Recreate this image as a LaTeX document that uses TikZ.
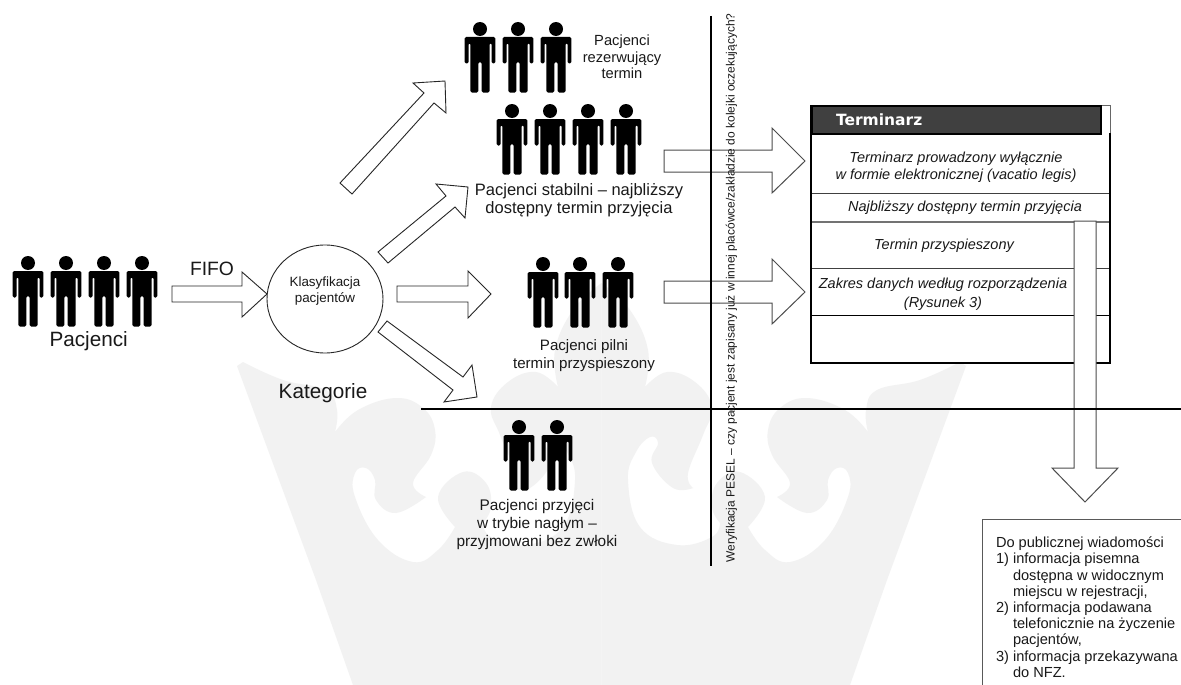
\documentclass[tikz,border=0pt]{standalone}
\usepackage{fontspec}
\usetikzlibrary{shapes.geometric}
\setmainfont{Liberation Sans}
\newfontfamily\headfont{DejaVu Sans}
\newcommand{\fs}[2]{\fontsize{#1pt}{#2pt}\selectfont}
\tikzset{
  txt/.style={inner sep=0pt,outer sep=0pt,align=center,text=black!90},
  wm/.style={fill=black!5},
  blockarrow/.style={draw=black!85,fill=white,line width=0.9pt,line join=miter},
  greyarrow/.style={draw=black!70,fill=white,line width=1pt,line join=miter},
  rowline/.style={line width=1pt},
  thickline/.style={draw=black,line width=2.2pt},
  person/.pic={
    \fill[black] (0,0) circle (7);
    \fill[black,rounded corners=1.5pt] (-15.3,8) -- (15.3,8) -- (15.3,34.5) -- (11.5,34.5) -- (11.5,14) -- (9.7,14) -- (9.7,63.5) -- (1.6,63.5) -- (1.6,33) -- (-1.6,33) -- (-1.6,63.5) -- (-9.7,63.5) -- (-9.7,14) -- (-11.5,14) -- (-11.5,34.5) -- (-15.3,34.5) -- cycle;
  }
}
\newcommand{\crownhalf}{%
  \fill[wm] plot[smooth,tension=.7] coordinates {(601.5,283) (630,310) (648,350) (645,387)}
   -- plot[smooth,tension=.7] coordinates {(645,387) (667,372) (695,382) (712,407) (703,435) (688,473) (693,488)}
   -- plot[smooth,tension=.7] coordinates {(693,488) (673,488) (652,463) (658,443) (650,437) (636,452) (628,480) (640,527) (677,545) (712,537) (720,523)}
   -- plot[smooth,tension=.7] coordinates {(720,523) (712,507) (717,483) (740,472) (765,497) (748,527)}
   -- plot[smooth,tension=.7] coordinates {(748,527) (765,550) (790,562) (825,540) (848,497) (848,473) (837,468) (828,480) (827,500) (807,513) (777,497)}
   -- plot[smooth,tension=.7] coordinates {(777,497) (790,483) (772,455) (768,430) (780,408) (807,398) (845,410) (868,432)}
   -- plot[smooth,tension=.7] coordinates {(868,432) (866,410) (877,390) (920,380) (960,362)}
   -- (966,366) -- (887,580) -- (850,685) -- (601.5,685) -- cycle;%
}
\begin{document}
\begin{tikzpicture}[x=1pt,y=-1pt]
\useasboundingbox (0,0) rectangle (1181,685);
\fill[white] (0,0) rectangle (1181,685);
% watermark
\crownhalf
\begin{scope}[xshift=1203pt,xscale=-1]\crownhalf\end{scope}

% people
\foreach \x in {28,66,104,142} \pic at (\x,263) {person};
\foreach \x in {480,518,556} \pic at (\x,29) {person};
\foreach \x in {512,550,588,626} \pic at (\x,111) {person};
\foreach \x in {543,580,618} \pic at (\x,264) {person};
\foreach \x in {519,557} \pic at (\x,427) {person};

% classification circle
\node[draw=black!85,line width=0.9pt,ellipse,minimum width=116pt,minimum height=108pt,inner sep=0pt] (klas) at (325,299) {};

% block arrows
\draw[blockarrow] (172,286) -- (242,286) -- (242,272) -- (267,294) -- (242,317) -- (242,302) -- (172,302) -- cycle;
\draw[blockarrow] (340,183) -- (424,93) -- (413,83) -- (445,81) -- (446,113) -- (434,103) -- (352,194) -- cycle;
\draw[blockarrow] (378,252) -- (446,196) -- (436,184) -- (468,187) -- (465,218) -- (455,207) -- (388,263) -- cycle;
\draw[blockarrow] (397,286) -- (468,286) -- (468,271) -- (491,294) -- (468,318) -- (468,302) -- (397,302) -- cycle;
\draw[blockarrow] (387,321) -- (463,377) -- (472,365) -- (477,397) -- (444,402) -- (453,390) -- (378,332) -- cycle;
\draw[greyarrow] (664,150) -- (772,150) -- (772,128) -- (805,161) -- (772,193) -- (772,172) -- (664,172) -- cycle;
\draw[greyarrow] (664,281) -- (772,281) -- (772,259) -- (805,292) -- (772,324) -- (772,303) -- (664,303) -- cycle;

% schedule table
\draw[draw=black!60,line width=1pt] (1100,105) -- (1110,105) -- (1110,133);
\draw[draw=black,line width=2.2pt,line join=miter] (1110,133) -- (1110,363) -- (811,363) -- (811,105);
\draw[rowline,draw=black!75] (812,193) -- (1109,193);
\draw[rowline,draw=black!55,line width=1.4pt] (812,222) -- (1109,222);
\draw[rowline,draw=black!75] (812,268) -- (1109,268);
\draw[rowline,draw=black] (812,315) -- (1109,315);
\node[draw=black,fill=black!75,line width=2.4pt,minimum width=289pt,minimum height=28pt,inner sep=0pt,anchor=north west] (head) at (811,105) {};
\node[txt,anchor=base west,text=white,font=\headfont\bfseries\fs{15.5}{18}] (headtxt) at (836,125) {Terminarz};

% downward arrow
\draw[greyarrow] (1074,221) -- (1096,221) -- (1096,468) -- (1118,468) -- (1085,502) -- (1052,468) -- (1074,468) -- cycle;

% axes
\draw[thickline] (711,16) -- (711,566);
\draw[thickline] (421,409) -- (1181,409);

% table text
\begin{scope}[every node/.style={txt,font=\itshape\fs{14.5}{17}}]
\node (r1) at (956,167.5) {Terminarz prowadzony wyłącznie\\w formie elektronicznej (vacatio legis)};
\node[anchor=base] (r2) at (965,211) {Najbliższy dostępny termin przyjęcia};
\node[anchor=base] (r3) at (944,249) {Termin przyspieszony};
\node[font=\itshape\fs{14.5}{18.5}] (r4) at (943,294) {Zakres danych według rozporządzenia\\(Rysunek 3)};
\end{scope}

% labels
\node[txt,anchor=base,font=\fs{20.7}{24}] (pac) at (88.7,346.7) {Pacjenci};
\node[txt,anchor=base,font=\fs{20.7}{24}] (kat) at (323,398) {Kategorie};
\node[txt,anchor=base,font=\fs{19.3}{23}] (fifo) at (212,275) {FIFO};
\node[txt,font=\fs{13.4}{16.7}] (klastxt) at (325,291) {Klasyfikacja\\pacjentów};
\node[txt,font=\fs{14.7}{16.5}] (rez) at (622,57) {Pacjenci\\rezerwujący\\termin};
\node[txt,font=\fs{16.5}{17.5}] (stab) at (579,200) {Pacjenci stabilni – najbliższy\\dostępny termin przyjęcia};
\node[txt,font=\fs{15.1}{18}] (piln) at (584,356) {Pacjenci pilni\\termin przyspieszony};
\node[txt,font=\fs{15.4}{18}] (nagl) at (537,525) {Pacjenci przyjęci\\w trybie nagłym –\\przyjmowani bez zwłoki};
\node[txt,rotate=90,font=\fs{11.95}{14}] (pesel) at (731.5,288) {Weryfikacja PESEL – czy pacjent jest zapisany już w innej placówce/zakładzie do kolejki oczekujących?};

% public information box
\coordinate (boxtr) at (1181,519);
\coordinate (boxtl) at (982,519);
\coordinate (boxbl) at (982,685);
\draw[draw=black!65,line width=1pt] (boxtr) -- (boxtl) -- (boxbl);
\node[txt,anchor=north west,align=left,font=\fs{14.6}{16.2}] (pub) at (996,537) {Do publicznej wiadomości\\
1) informacja pisemna\\
\hspace*{17pt}dostępna w widocznym\\
\hspace*{17pt}miejscu w rejestracji,\\
2) informacja podawana\\
\hspace*{17pt}telefonicznie na życzenie\\
\hspace*{17pt}pacjentów,\\
3) informacja przekazywana\\
\hspace*{17pt}do NFZ.};
\end{tikzpicture}
\end{document}
